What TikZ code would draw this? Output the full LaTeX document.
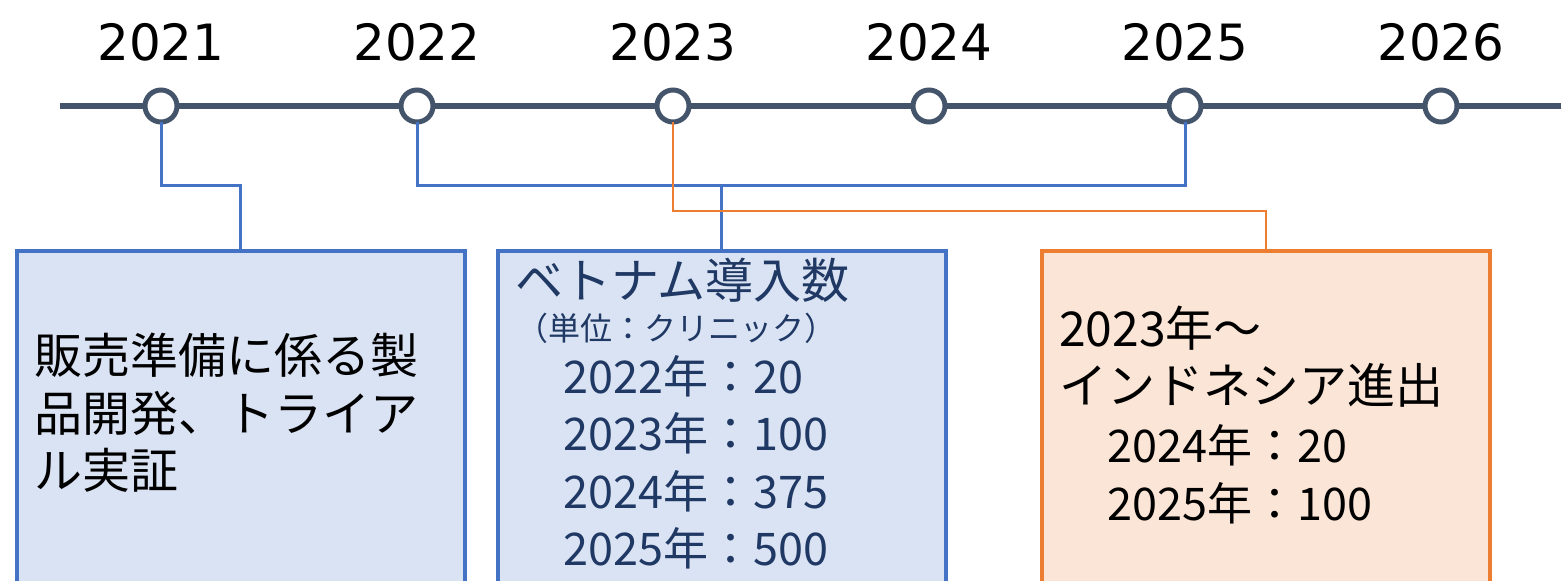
\documentclass[tikz,border=0pt]{standalone}
\usepackage{fontspec}
\setmainfont{Noto Sans CJK JP}
\newfontfamily\yearfont{DejaVu Sans}
\newfontfamily\jpfont{Noto Sans CJK JP}
\definecolor{tlgray}{HTML}{44546A}
\definecolor{accblue}{HTML}{4472C4}
\definecolor{fillblue}{HTML}{DAE3F3}
\definecolor{accorange}{HTML}{ED7D31}
\definecolor{fillorange}{HTML}{FBE5D6}
\definecolor{navytext}{HTML}{1F3864}
\begin{document}
\begin{tikzpicture}[x=1pt,y=-1pt,
  yearmark/.style={circle,draw=tlgray,fill=white,line width=5pt,minimum size=32pt,inner sep=0pt,outer sep=0pt},
  yearlabel/.style={anchor=base,inner sep=0pt,font=\yearfont\fontsize{50}{60}\selectfont},
  bluebox/.style={draw=accblue,fill=fillblue,line width=3.5pt,minimum width=448pt,minimum height=380pt,anchor=north west,inner sep=0pt},
  orangebox/.style={draw=accorange,fill=fillorange,line width=3.5pt,minimum width=448pt,minimum height=380pt,anchor=north west,inner sep=0pt},
  blueline/.style={draw=accblue,line width=3pt},
  orangeline/.style={draw=accorange,line width=1.5pt},
  bigtext/.style={anchor=base west,inner sep=0pt,font=\jpfont\fontsize{48}{57}\selectfont},
  smalltext/.style={anchor=base west,inner sep=0pt,font=\jpfont\fontsize{32}{38}\selectfont},
  numtext/.style={anchor=base west,inner sep=0pt,font=\jpfont\fontsize{45}{57}\selectfont},
]
\useasboundingbox (0,0) rectangle (1561,581);
\clip (0,0) rectangle (1561,581);

% timeline
\coordinate (tlstart) at (60,106);
\coordinate (tlend) at (1561,106);
\draw[tlgray,line width=6pt] (tlstart) -- (tlend);

% boxes
\node[bluebox] (b1) at (15,249) {};
\node[bluebox] (b2) at (496,249) {};
\node[orangebox] (b3) at (1040,249) {};

% year labels and marks
\foreach \i/\x/\yr in {1/161/2021,2/417/2022,3/673/2023,4/929/2024,5/1185/2025,6/1441/2026}{
  \node[yearlabel] (y\i) at (\x,60) {\yr};
  \node[yearmark] (c\i) at (\x,106) {};
}

% connectors
\draw[blueline] (c1.south) |- (b1.north |- 0,185) -- (b1.north);
\draw[blueline] (c2.south) |- (c5.south |- 0,185) -- (c5.south);
\draw[blueline] (b2.north |- 0,185) -- (b2.north);
\draw[orangeline] (c3.south) |- (b3.north |- 0,211) -- (b3.north);

% box 1 text
\node[bigtext] (t11) at (34,373) {販売準備に係る製};
\node[bigtext] (t12) at (34,431) {品開発、トライア};
\node[bigtext] (t13) at (34,488) {ル実証};

% box 2 text
\node[bigtext,text=navytext] (t21) at (515,298) {ベトナム導入数};
\node[smalltext,text=navytext] (t22) at (516,340) {（単位：クリニック）};
\node[numtext,text=navytext] (t23) at (563,393) {2022年：20};
\node[numtext,text=navytext] (t24) at (563,450) {2023年：100};
\node[numtext,text=navytext] (t25) at (563,508) {2024年：375};
\node[numtext,text=navytext] (t26) at (563,565) {2025年：500};

% box 3 text
\node[bigtext] (t31) at (1059,346) {2023年～};
\node[bigtext] (t32) at (1059,403) {インドネシア進出};
\node[numtext] (t33) at (1107,462) {2024年：20};
\node[numtext] (t34) at (1107,520) {2025年：100};
\end{tikzpicture}
\end{document}
